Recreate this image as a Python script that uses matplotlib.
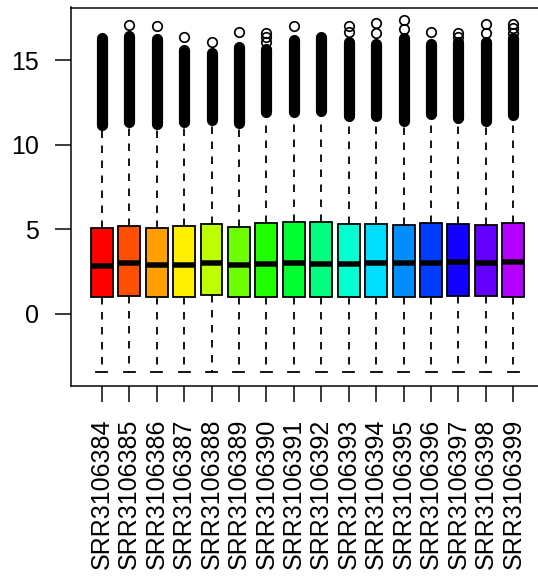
import colorsys
import matplotlib
matplotlib.use("Agg")
import matplotlib.pyplot as plt

samples = ["SRR3106384", "SRR3106385", "SRR3106386", "SRR3106387",
           "SRR3106388", "SRR3106389", "SRR3106390", "SRR3106391",
           "SRR3106392", "SRR3106393", "SRR3106394", "SRR3106395",
           "SRR3106396", "SRR3106397", "SRR3106398", "SRR3106399"]
q1 = [0.99, 1.03, 0.97, 0.99, 1.09, 0.99, 0.99, 0.99,
      0.97, 0.97, 1.01, 0.99, 1.01, 1.07, 1.05, 1.01]
median = [2.85, 2.99, 2.89, 2.89, 3.00, 2.87, 2.96, 3.00,
          2.96, 2.93, 2.99, 2.99, 3.00, 3.05, 3.02, 3.05]
q3 = [5.06, 5.20, 5.10, 5.18, 5.30, 5.12, 5.39, 5.42,
      5.44, 5.32, 5.34, 5.24, 5.38, 5.30, 5.26, 5.36]
whisker_low = [-3.44] * 16
whisker_high = [11.14, 11.33, 11.19, 11.28, 11.44, 11.25, 11.88, 11.88,
                11.97, 11.65, 11.65, 11.37, 11.77, 11.57, 11.37, 11.71]
# dense outlier band (lowest and highest of the closely packed outliers)
band_low = [11.18, 11.38, 11.24, 11.33, 11.49, 11.30, 11.93, 11.93,
            12.02, 11.70, 11.70, 11.42, 11.82, 11.62, 11.42, 11.76]
band_high = [16.35, 16.45, 16.25, 15.63, 15.42, 15.82, 15.66, 16.20,
             16.40, 16.06, 15.96, 16.35, 15.96, 16.10, 16.06, 16.35]
# isolated top outliers
extra_outliers = [[], [17.07], [17.01], [16.36], [16.09], [16.68],
                  [16.62, 16.36, 16.10], [17.01], [], [17.05, 16.70],
                  [17.20, 16.62], [17.37, 16.86], [16.66], [16.60, 16.38],
                  [17.15, 16.62], [17.17, 16.92, 16.62]]
yticks = [0, 5, 10, 15]

W, H, DPI = 538, 577, 100
px = 72.0 / DPI
fig = plt.figure(figsize=(W / DPI, H / DPI), dpi=DPI)
left, right, top, bottom = 70.5, 544.6, 7.5, 386.0
ax = fig.add_axes([left / W, 1 - bottom / H, (right - left) / W, (bottom - top) / H])

n = len(samples)
pos = list(range(1, n + 1))
colors = [colorsys.hsv_to_rgb((i * 18.8 / 360.0) % 1.0, 1.0, 1.0) for i in range(n)]

stats = []
for i in range(n):
    stats.append(dict(med=median[i], q1=q1[i], q3=q3[i],
                      whislo=whisker_low[i], whishi=whisker_high[i],
                      fliers=extra_outliers[i], label=samples[i]))

lw = 1.8 * px
bp = ax.bxp(stats, positions=pos, widths=0.8, capwidths=0.4, patch_artist=True,
            showfliers=True,
            boxprops=dict(linewidth=lw, edgecolor="black"),
            medianprops=dict(linewidth=5.5 * px, color="black", solid_capstyle="butt"),
            whiskerprops=dict(linewidth=lw, color="black",
                              linestyle=(0, (7.5 / 1.8, 7.5 / 1.8))),
            capprops=dict(linewidth=lw, color="black"),
            flierprops=dict(marker="o", markersize=9.5 * px, markerfacecolor="none",
                            markeredgecolor="black", markeredgewidth=1.7 * px,
                            linestyle="none"))
for patch, c in zip(bp["boxes"], colors):
    patch.set_facecolor(c)
# upper staples are hidden under the outlier columns in the reference
for cap in bp["caps"][1::2]:
    cap.set_visible(False)

for i in range(n):
    ax.plot([pos[i], pos[i]], [band_low[i], band_high[i]], color="black",
            linewidth=11.2 * px, solid_capstyle="round", zorder=3)

ax.set_xlim(-0.14, 17.14)
ax.set_ylim(-4.27, 18.13)
ax.set_xticks(pos)
ax.set_xticklabels(samples, rotation=90, va="top", ha="center")
ax.set_yticks(yticks)
ax.set_yticklabels([str(v) for v in yticks])

fs = 25 * px
for lab in ax.get_xticklabels() + ax.get_yticklabels():
    lab.set_fontfamily("Liberation Sans")
    lab.set_fontsize(fs)
ax.tick_params(axis="both", length=15.7 * px, width=1.5 * px, direction="out")
ax.tick_params(axis="x", pad=17 * px)
ax.tick_params(axis="y", pad=16 * px)
for s in ax.spines.values():
    s.set_linewidth(1.5 * px)

fig.savefig("out.png", dpi=DPI)
